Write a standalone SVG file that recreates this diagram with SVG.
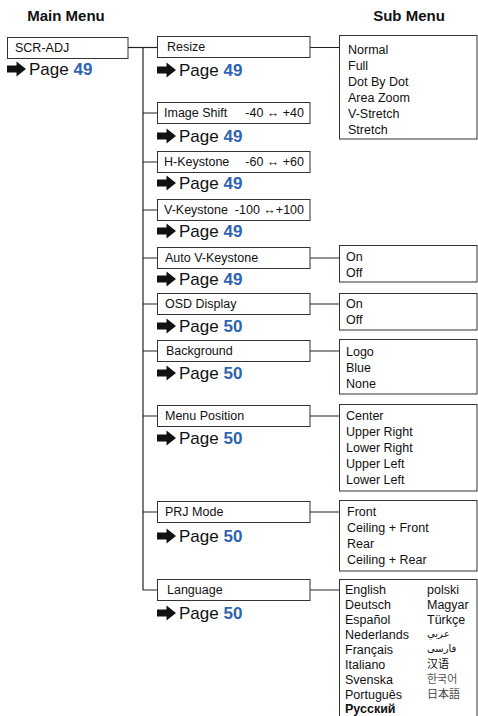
<svg xmlns="http://www.w3.org/2000/svg" xmlns:xlink="http://www.w3.org/1999/xlink" width="478" height="716" viewBox="0 0 478 716">
<style>
text{font-family:"Liberation Sans",Arial,sans-serif;fill:#111}
.title{font-size:15px;font-weight:bold;text-anchor:middle}
.m{font-size:12.5px}
.r{font-size:12.5px;text-anchor:end}
.s{font-size:12.5px}
.pg{font-size:17px}
.pg tspan{font-weight:bold;fill:#2f63b3}
.box{fill:#fff;stroke:#333;stroke-width:1}
.ln{fill:none;stroke:#222;stroke-width:1.2}
.ar{font-family:"DejaVu Sans","Noto Sans",sans-serif;font-size:10px}
.cjk{font-size:11px}
</style>
<defs>
<path id="arr" d="M0,-3.5 H9.5 V-7.5 L19,0 L9.5,7.5 V3.5 H0 Z" fill="#111"/>
</defs>
<rect width="478" height="716" fill="#fff"/>
<text class="title" x="66" y="21">Main Menu</text>
<text class="title" x="409" y="21">Sub Menu</text>

<g id="connectors">
<path class="ln" d="M128,47.5 H157"/>
<path class="ln" d="M143,47.5 V590 H157"/>
<path class="ln" d="M143,113 H157 M143,162 H157 M143,210 H157 M143,258 H157 M143,304 H157 M143,351 H157 M143,416 H157 M143,512 H157"/>
<path class="ln" d="M310,47.5 H339 M310,258 H339 M310,304 H339 M310,351 H339 M310,416 H339 M310,512 H339 M310,590 H339"/>
</g>

<g id="scr-adj">
<rect class="box" x="7.5" y="37.5" width="120.5" height="21"/>
<text class="m" x="15" y="52">SCR-ADJ</text>
<use xlink:href="#arr" x="7" y="69"/>
<text class="pg" x="29" y="75">Page <tspan>49</tspan></text>
</g>

<g id="resize">
<rect class="box" x="157.5" y="36.5" width="152.5" height="21"/>
<text class="m" x="167" y="51">Resize</text>
<use xlink:href="#arr" x="157" y="70"/>
<text class="pg" x="179" y="76">Page <tspan>49</tspan></text>
</g>
<g id="image-shift">
<rect class="box" x="157.5" y="102.5" width="152.5" height="21"/>
<text class="m" x="164" y="117">Image Shift</text>
<text class="r" x="304" y="117">-40 ↔ +40</text>
<use xlink:href="#arr" x="157" y="136"/>
<text class="pg" x="179" y="142">Page <tspan>49</tspan></text>
</g>
<g id="h-keystone">
<rect class="box" x="157.5" y="151.5" width="152.5" height="21"/>
<text class="m" x="164" y="166">H-Keystone</text>
<text class="r" x="304" y="166">-60 ↔ +60</text>
<use xlink:href="#arr" x="157" y="183"/>
<text class="pg" x="179" y="189">Page <tspan>49</tspan></text>
</g>
<g id="v-keystone">
<rect class="box" x="157.5" y="199.5" width="152.5" height="21"/>
<text class="m" x="164" y="214">V-Keystone</text>
<text class="r" x="304" y="214">-100 ↔+100</text>
<use xlink:href="#arr" x="157" y="231"/>
<text class="pg" x="179" y="237">Page <tspan>49</tspan></text>
</g>
<g id="auto-v-keystone">
<rect class="box" x="157.5" y="247.5" width="152.5" height="21"/>
<text class="m" x="165" y="262">Auto V-Keystone</text>
<use xlink:href="#arr" x="157" y="279"/>
<text class="pg" x="179" y="285">Page <tspan>49</tspan></text>
</g>
<g id="osd-display">
<rect class="box" x="157.5" y="293.5" width="152.5" height="21"/>
<text class="m" x="165" y="308">OSD Display</text>
<use xlink:href="#arr" x="157" y="326"/>
<text class="pg" x="179" y="332">Page <tspan>50</tspan></text>
</g>
<g id="background">
<rect class="box" x="157.5" y="340.5" width="152.5" height="21"/>
<text class="m" x="166" y="355">Background</text>
<use xlink:href="#arr" x="157" y="373"/>
<text class="pg" x="179" y="379">Page <tspan>50</tspan></text>
</g>
<g id="menu-position">
<rect class="box" x="157.5" y="405.5" width="152.5" height="21"/>
<text class="m" x="165" y="420">Menu Position</text>
<use xlink:href="#arr" x="157" y="438"/>
<text class="pg" x="179" y="444">Page <tspan>50</tspan></text>
</g>
<g id="prj-mode">
<rect class="box" x="157.5" y="501.5" width="152.5" height="21"/>
<text class="m" x="165" y="516">PRJ Mode</text>
<use xlink:href="#arr" x="157" y="536"/>
<text class="pg" x="179" y="542">Page <tspan>50</tspan></text>
</g>
<g id="language">
<rect class="box" x="157.5" y="579.5" width="152.5" height="21"/>
<text class="m" x="167" y="594">Language</text>
<use xlink:href="#arr" x="157" y="613"/>
<text class="pg" x="179" y="619">Page <tspan>50</tspan></text>
</g>

<g id="sub-resize">
<rect class="box" x="339.5" y="35.5" width="137.5" height="103.5"/>
<text class="s" x="348" y="54">Normal</text>
<text class="s" x="348" y="70">Full</text>
<text class="s" x="348" y="86">Dot By Dot</text>
<text class="s" x="348" y="102">Area Zoom</text>
<text class="s" x="348" y="118">V-Stretch</text>
<text class="s" x="348" y="134">Stretch</text>
</g>
<g id="sub-auto-v">
<rect class="box" x="339.5" y="245.5" width="137.5" height="36.5"/>
<text class="s" x="346" y="261">On</text>
<text class="s" x="346" y="277">Off</text>
</g>
<g id="sub-osd">
<rect class="box" x="339.5" y="293.5" width="137.5" height="36.5"/>
<text class="s" x="346" y="308">On</text>
<text class="s" x="346" y="324">Off</text>
</g>
<g id="sub-background">
<rect class="box" x="339.5" y="339.5" width="137.5" height="54.5"/>
<text class="s" x="346" y="356">Logo</text>
<text class="s" x="346" y="372">Blue</text>
<text class="s" x="346" y="388">None</text>
</g>
<g id="sub-menu-position">
<rect class="box" x="339.5" y="404.5" width="137.5" height="86.5"/>
<text class="s" x="346" y="420">Center</text>
<text class="s" x="346" y="436">Upper Right</text>
<text class="s" x="346" y="452">Lower Right</text>
<text class="s" x="346" y="468">Upper Left</text>
<text class="s" x="346" y="484">Lower Left</text>
</g>
<g id="sub-prj-mode">
<rect class="box" x="339.5" y="500.5" width="137.5" height="70.5"/>
<text class="s" x="347" y="516">Front</text>
<text class="s" x="347" y="532">Ceiling + Front</text>
<text class="s" x="347" y="548">Rear</text>
<text class="s" x="347" y="564">Ceiling + Rear</text>
</g>
<g id="sub-language">
<rect class="box" x="339.5" y="579.5" width="137.5" height="140"/>
<text class="s" x="345" y="594">English</text>
<text class="s" x="345" y="609">Deutsch</text>
<text class="s" x="345" y="624">Español</text>
<text class="s" x="345" y="639">Nederlands</text>
<text class="s" x="345" y="654">Français</text>
<text class="s" x="345" y="669">Italiano</text>
<text class="s" x="345" y="684">Svenska</text>
<text class="s" x="345" y="699">Português</text>
<text class="s" x="345" y="713" font-weight="bold">Русский</text>
<text class="s" x="427" y="594">polski</text>
<text class="s" x="427" y="609">Magyar</text>
<text class="s" x="427" y="624">Türkçe</text>
<text class="ar" x="427" y="637">عربي</text>
<text class="ar" x="427" y="652">فارسی</text>
<text class="cjk" x="427" y="668" style="font-family:'Noto Sans CJK SC',sans-serif">汉语</text>
<text class="cjk" x="427" y="683" style="font-family:'Noto Sans CJK KR',sans-serif;fill:#555">한국어</text>
<text class="cjk" x="427" y="698" style="font-family:'Noto Sans CJK JP',sans-serif;fill:#444">日本語</text>
</g>
</svg>
